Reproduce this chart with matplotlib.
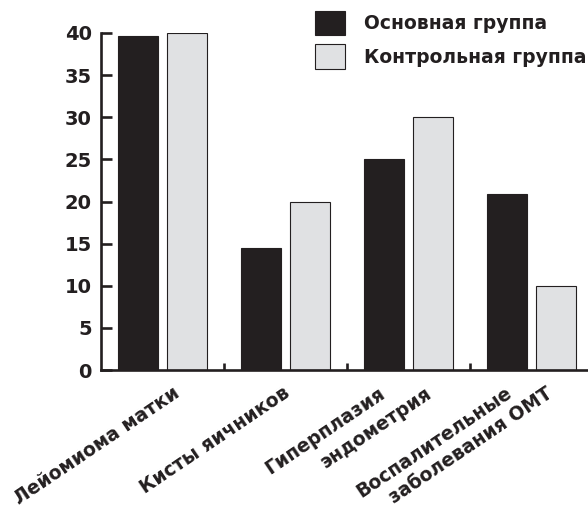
import numpy as np
import matplotlib.pyplot as plt
from matplotlib.patches import Patch

# data
categories = [
    ["Лейомиома матки"],
    ["Кисты яичников"],
    ["Гиперплазия", "эндометрия"],
    ["Воспалительные", "заболевания ОМТ"],
]
main_group = [39.6, 14.5, 25.0, 20.9]
control_group = [40.0, 20.0, 30.0, 10.0]
series_names = ["Основная группа", "Контрольная группа"]
y_ticks = [0, 5, 10, 15, 20, 25, 30, 35, 40]

# layout: label line right-end offsets from group centre
label_offsets = [[0.17], [0.06], [-0.16, 0.22], [-0.13, 0.2]]

DARK = "#231f20"
LIGHT = "#e0e1e3"

plt.rcParams.update({
    "font.family": ["DejaVu Sans"],
    "font.weight": "bold",
})

fig = plt.figure(figsize=(5.88, 5.07), dpi=100)
ax = fig.add_axes([101 / 588, 1 - 370 / 507, 492 / 588, (370 - 33) / 507])

x = np.arange(len(categories))
w = 0.325
off = 0.2
ax.bar(x - off, main_group, width=w, color=DARK, edgecolor=DARK, linewidth=0.8)
ax.bar(x + off, control_group, width=w, color=LIGHT, edgecolor=DARK, linewidth=0.8)

ax.set_xlim(-0.5, len(categories) - 0.5)
ax.set_ylim(0, 40)
ax.set_yticks(y_ticks)
ax.set_yticklabels([str(v) for v in y_ticks], fontsize=14, fontweight="bold", color=DARK)
ax.set_xticks([])
ax.set_xticks(x[:-1] + 0.5, minor=True)

for s in ["top", "right"]:
    ax.spines[s].set_visible(False)
for s in ["left", "bottom"]:
    ax.spines[s].set_linewidth(1.9)
    ax.spines[s].set_color(DARK)
ax.tick_params(axis="y", direction="in", length=8, width=1.9, color=DARK, pad=6.5)
ax.tick_params(axis="x", which="minor", direction="in", length=5, width=1.9, color=DARK)

for i, (lines, offs) in enumerate(zip(categories, label_offsets)):
    for line, o in zip(lines, offs):
        ax.text(i + o, -1.6, line, rotation=34, ha="right", va="top",
                fontsize=13.5, fontweight="bold", color=DARK, clip_on=False)

handles = [Patch(facecolor=DARK, edgecolor=DARK, linewidth=0.8),
           Patch(facecolor=LIGHT, edgecolor=DARK, linewidth=0.8)]
leg = fig.legend(handles, series_names, loc="upper left",
                 bbox_to_anchor=(315 / 588, 1 - 11 / 507), frameon=False,
                 borderpad=0, borderaxespad=0, handlelength=1.6, handleheight=1.6,
                 handletextpad=1.0, labelspacing=0.5,
                 prop={"size": 13.5, "weight": "bold"})
for t in leg.get_texts():
    t.set_color(DARK)

fig.savefig("out.png", dpi=100)
